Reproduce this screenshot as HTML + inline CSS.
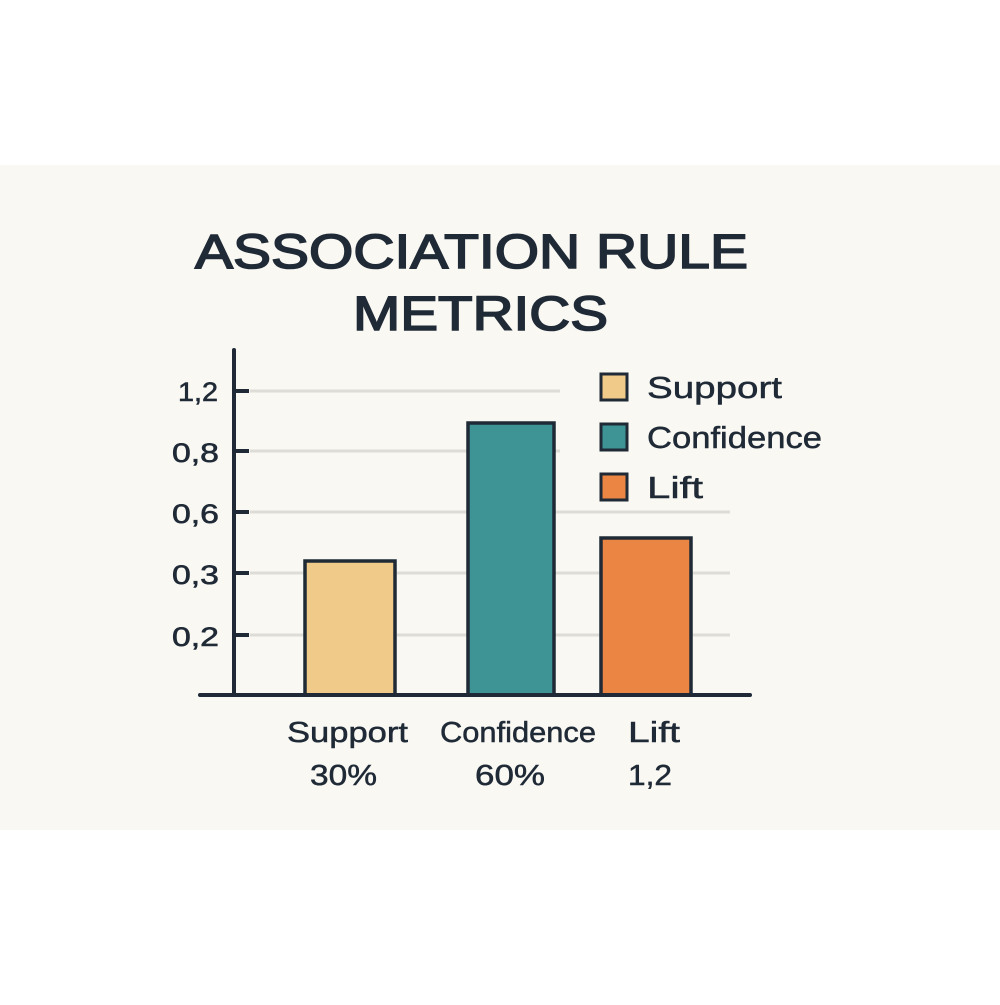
<!DOCTYPE html>
<html><head><meta charset="utf-8"><style>
body{margin:0;width:1000px;height:1000px;background:#fff;overflow:hidden}
</style></head><body>
<svg width="1000" height="1000" xmlns="http://www.w3.org/2000/svg" font-family="Liberation Sans, DejaVu Sans, sans-serif" fill="#1f2a36">
<rect x="0" y="165" width="1000" height="665" fill="#faf8f3"/>
<g font-size="48" stroke="#1f2a36" stroke-width="1.6">
<text x="195" y="268" textLength="553" lengthAdjust="spacingAndGlyphs">ASSOCIATION RULE</text>
<text x="353" y="330" textLength="255" lengthAdjust="spacingAndGlyphs">METRICS</text>
</g>
<g stroke="#dedcd6" stroke-width="3">
<line x1="250" y1="391" x2="560" y2="391"/>
<line x1="250" y1="451" x2="560" y2="451"/>
<line x1="250" y1="512" x2="730" y2="512"/>
<line x1="250" y1="573" x2="730" y2="573"/>
<line x1="250" y1="635" x2="730" y2="635"/>
</g>
<g stroke="#1f2a36" stroke-width="4">
<line x1="249" y1="391" x2="234" y2="391"/>
<line x1="249" y1="451" x2="234" y2="451"/>
<line x1="249" y1="512" x2="234" y2="512"/>
<line x1="249" y1="573" x2="234" y2="573"/>
<line x1="249" y1="635" x2="234" y2="635"/>
</g>
<g font-size="27" stroke="#1f2a36" stroke-width="0.6">
<text x="178" y="401" textLength="40" lengthAdjust="spacingAndGlyphs">1,2</text>
<text x="172" y="462" textLength="47" lengthAdjust="spacingAndGlyphs">0,8</text>
<text x="172" y="523" textLength="47" lengthAdjust="spacingAndGlyphs">0,6</text>
<text x="172" y="584" textLength="47" lengthAdjust="spacingAndGlyphs">0,3</text>
<text x="172" y="646" textLength="47" lengthAdjust="spacingAndGlyphs">0,2</text>
</g>
<g stroke="#1f2a36" stroke-width="3.5">
<rect x="305" y="561" width="90" height="134" fill="#efca88"/>
<rect x="468" y="423" width="86" height="272" fill="#3e9494"/>
<rect x="601" y="538" width="90" height="157" fill="#ea8543"/>
</g>
<line x1="234" y1="350" x2="234" y2="695" stroke="#1f2a36" stroke-width="4" stroke-linecap="round"/>
<line x1="200" y1="695" x2="750" y2="695" stroke="#1f2a36" stroke-width="4" stroke-linecap="round"/>
<g stroke="#1f2a36" stroke-width="3">
<rect x="601" y="374" width="26" height="26" fill="#efca88"/>
<rect x="601" y="424" width="26" height="26" fill="#3e9494"/>
<rect x="601" y="474" width="26" height="26" fill="#ea8543"/>
</g>
<g font-size="31" stroke="#1f2a36" stroke-width="0.5">
<text x="647" y="398" textLength="135" lengthAdjust="spacingAndGlyphs">Support</text>
<text x="647" y="448" textLength="175" lengthAdjust="spacingAndGlyphs">Confidence</text>
<text x="647" y="498" textLength="56" lengthAdjust="spacingAndGlyphs">Lift</text>
</g>
<g font-size="29" stroke="#1f2a36" stroke-width="0.5">
<text x="287" y="742" textLength="121" lengthAdjust="spacingAndGlyphs">Support</text>
<text x="310" y="785" textLength="67" lengthAdjust="spacingAndGlyphs">30%</text>
<text x="440" y="742" textLength="156" lengthAdjust="spacingAndGlyphs">Confidence</text>
<text x="475" y="785" textLength="70" lengthAdjust="spacingAndGlyphs">60%</text>
<text x="628" y="742" textLength="52" lengthAdjust="spacingAndGlyphs">Lift</text>
<text x="628" y="785" textLength="44" lengthAdjust="spacingAndGlyphs">1,2</text>
</g>
</svg>
</body></html>
